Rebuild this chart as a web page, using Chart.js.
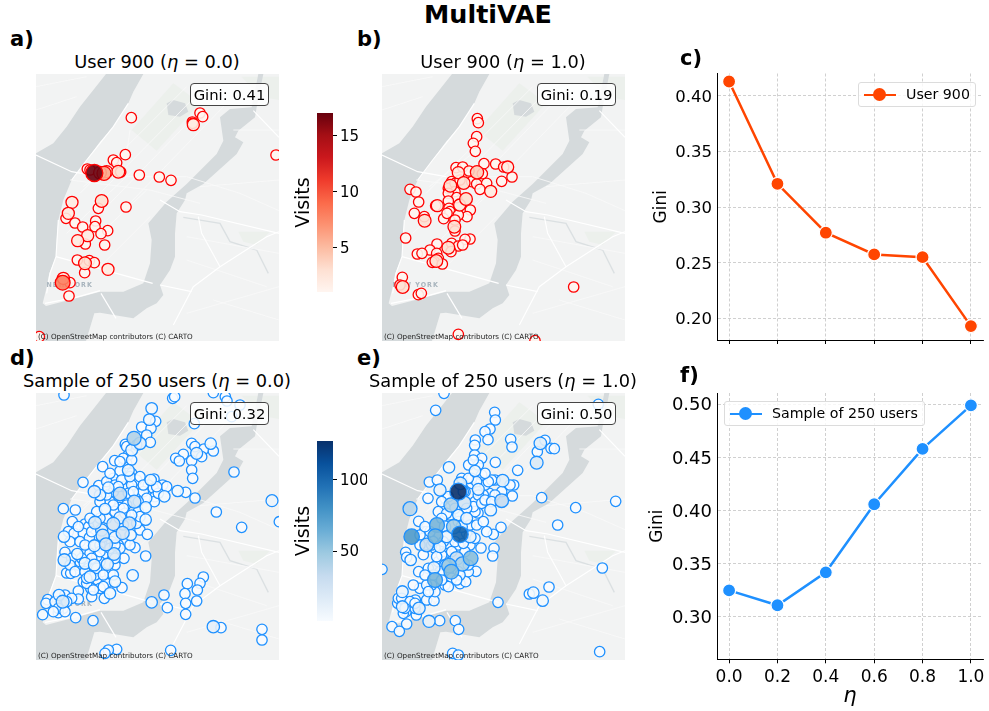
<!DOCTYPE html>
<html>
<head>
<meta charset="utf-8">
<title>MultiVAE</title>
<script src="https://cdn.jsdelivr.net/npm/chart.js@4"></script>
<style>
html, body { margin: 0; padding: 0; background: #fff; }
body { position: relative; width: 989px; height: 711px; overflow: hidden; font-family: "DejaVu Sans", sans-serif; color: #000; }
canvas { position: absolute; display: block; }
.txt { position: absolute; white-space: nowrap; line-height: 1; }
.sup { font-weight: bold; font-size: 25.4px; left: 0; width: 976px; text-align: center; top: 2px; }
.letter { font-weight: bold; font-size: 21px; }
.title { font-size: 17.8px; width: 300px; text-align: center; }
.gini { width: 79px; height: 23px; box-sizing: border-box; border: 1px solid #444; border-radius: 4px; background: rgba(255,255,255,.85); font-size: 14.8px; line-height: 21px; text-align: center; }
.attr { font-size: 7.2px; color: #222; }
.legend { position: absolute; box-sizing: border-box; height: 25px; border: 1px solid #dcdcdc; border-radius: 3px; background: rgba(255,255,255,.8); font-size: 14.2px; line-height: 23px; white-space: nowrap; }
.legend i { position: absolute; top: 10.5px; left: 5px; width: 32px; height: 2.5px; }
.legend b { position: absolute; top: 5px; left: 14px; width: 13px; height: 13px; border-radius: 50%; box-sizing: content-box; }
.legend span { position: absolute; left: 47px; }
</style>
</head>
<body>
<script>
Chart.defaults.animation = false;
Chart.defaults.font.family = "'DejaVu Sans', sans-serif";
Chart.defaults.color = '#000';
Chart.defaults.plugins.legend.display = false;
Chart.defaults.plugins.tooltip.enabled = false;

// gini por eta (paineis c, f)
const etas = [0.0, 0.2, 0.4, 0.6, 0.8, 1.0];
const giniUser = [0.413, 0.321, 0.277, 0.2575, 0.255, 0.193];
const giniSample = [0.325, 0.311, 0.342, 0.406, 0.458, 0.499];
const userTicks = [0.20, 0.25, 0.30, 0.35, 0.40];
const sampleTicks = [0.30, 0.35, 0.40, 0.45, 0.50];
const userCbarTicks = [5, 10, 15];
const sampleCbarTicks = [50, 100];

// pontos do mapa: [x, y, visits]
const pointsA = [[394,293,1],[600,279,1],[608,290,1],[577,306,1],[578,310,1],[580,314,2],[828,405,1],[376,404,1],[340,420,1],[350,428,1],[262,447,1],[270,450,1],[320,455,2],[300,458,3],[312,460,6],[283,459,17],[355,455,3],[362,456,1],[418,465,1],[478,471,1],[513,481,1],[305,543,3],[216,547,2],[295,565,1],[378,561,1],[205,580,2],[198,595,1],[225,609,1],[248,621,1],[287,603,1],[285,620,1],[323,632,1],[303,641,1],[263,647,2],[233,662,2],[256,672,1],[314,675,1],[232,720,1],[268,722,1],[283,728,1],[255,730,3],[254,758,1],[324,748,2],[190,775,2],[210,788,1],[188,788,8],[207,828,1],[118,950,1]];

const pointsB = [[397,296,1],[400,308,1],[395,350,1],[385,370,1],[391,394,1],[417,431,1],[452,432,1],[333,443,1],[353,441,1],[476,441,1],[488,441,2],[501,471,1],[470,484,1],[340,458,2],[372,453,1],[396,457,4],[412,461,1],[320,485,1],[316,497,3],[356,489,3],[380,485,1],[395,492,1],[425,490,1],[405,508,1],[437,514,2],[310,505,1],[330,490,1],[345,480,1],[195,508,1],[213,516,1],[221,546,1],[272,557,1],[277,557,2],[208,580,1],[238,590,1],[239,602,3],[363,537,3],[330,515,1],[310,520,1],[335,533,1],[344,555,2],[310,543,1],[376,570,1],[366,590,1],[312,565,1],[315,575,1],[340,585,1],[296,596,1],[306,580,1],[330,600,1],[328,620,3],[330,633,1],[182,654,1],[375,657,1],[360,658,1],[276,672,1],[320,670,1],[310,683,3],[340,678,1],[353,675,1],[318,695,1],[255,690,1],[217,702,1],[231,700,1],[275,700,1],[280,715,1],[268,725,1],[274,723,3],[262,727,1],[292,732,1],[172,772,1],[165,795,1],[173,801,3],[220,824,1],[229,820,1],[686,801,1],[340,943,1],[570,962,1]];

const pointsD = [[192,150,1],[518,160,1],[524,155,1],[640,143,1],[676,155,1],[681,168,1],[720,180,1],[455,190,5],[695,215,1],[448,224,5],[467,229,1],[583,236,1],[425,246,1],[453,250,1],[440,270,1],[402,280,40],[420,295,12],[451,292,1],[376,298,1],[380,305,1],[395,315,7],[385,330,1],[575,295,1],[585,305,1],[632,296,4],[612,312,1],[640,318,1],[590,325,8],[550,328,1],[527,340,1],[538,348,1],[575,347,1],[605,335,1],[344,347,1],[308,365,1],[380,355,1],[360,378,1],[385,376,7],[395,385,1],[575,375,1],[578,400,1],[702,381,1],[249,412,1],[296,422,1],[335,408,1],[325,428,4],[372,425,1],[410,405,1],[452,405,4],[462,402,1],[488,420,1],[445,420,1],[418,445,1],[283,440,12],[300,450,4],[360,447,30],[340,440,1],[460,430,1],[500,425,1],[533,438,4],[557,442,1],[585,459,1],[493,454,4],[465,455,1],[463,470,1],[403,470,22],[380,480,1],[816,467,8],[190,491,1],[226,495,1],[315,492,4],[358,488,1],[437,487,4],[400,500,1],[649,501,1],[360,518,10],[217,530,1],[437,524,4],[388,535,22],[340,537,22],[285,533,18],[255,537,1],[266,545,1],[725,547,1],[320,520,1],[420,555,1],[205,560,1],[222,565,1],[250,565,1],[192,575,4],[268,578,1],[305,555,10],[308,572,22],[368,564,22],[392,570,4],[442,568,1],[345,577,7],[283,602,7],[318,598,22],[375,595,1],[405,608,1],[195,622,1],[232,627,4],[255,625,1],[310,630,1],[342,627,18],[437,633,1],[372,640,1],[193,645,14],[255,655,7],[283,660,7],[322,658,10],[235,660,1],[300,650,1],[345,660,1],[200,684,1],[212,685,1],[270,695,7],[398,691,4],[610,696,1],[293,705,1],[345,710,4],[600,715,1],[562,716,1],[250,710,1],[318,715,1],[366,728,1],[592,735,1],[555,746,1],[235,738,1],[272,730,1],[330,745,4],[492,750,1],[143,764,1],[177,750,4],[195,750,1],[313,760,1],[275,755,1],[235,762,1],[590,768,1],[557,775,1],[455,772,4],[188,770,18],[138,775,1],[190,790,1],[502,788,1],[175,803,1],[128,809,1],[557,808,1],[227,818,1],[279,827,1],[640,845,12],[663,848,1],[786,853,1],[786,885,1],[350,913,1],[512,916,1],[325,915,1],[315,925,1],[838,530,1],[330,470,1],[345,500,1],[375,505,1],[415,500,1],[300,520,1],[275,560,1],[335,590,1],[355,600,1],[300,600,1],[270,625,1],[290,635,1],[240,650,1],[265,670,1],[305,680,1],[330,685,1],[285,690,1],[260,715,1],[300,730,1],[340,400,1],[395,420,1],[430,440,1],[320,410,1],[300,470,1],[290,500,1],[270,520,1],[235,545,1],[210,590,1],[240,590,1],[255,600,1],[300,620,1],[330,610,1],[360,610,1],[390,600,1],[345,600,1],[275,640,1],[245,640,1],[215,640,1],[210,660,1],[225,680,1],[255,680,1],[290,670,1],[310,690,1],[340,690,1],[260,700,1],[310,725,1],[280,735,1],[345,640,1],[370,540,1],[410,535,1],[420,515,1],[395,510,1],[370,490,1],[340,480,1],[320,450,1],[345,420,1],[365,405,1],[390,395,1],[420,395,1],[430,420,1],[440,460,1],[415,470,1],[475,445,1],[470,425,1],[385,445,1],[355,425,1],[400,440,1],[330,385,1],[370,340,1],[360,350,1],[395,345,1],[410,300,1],[215,760,1],[180,775,1],[165,770,1],[175,790,1],[200,770,1],[160,800,1],[195,800,1]];

const pointsE = [[297,145,1],[272,196,1],[449,202,1],[451,225,1],[760,178,1],[435,252,1],[420,260,1],[429,284,1],[497,283,1],[501,306,1],[391,285,1],[389,301,1],[586,295,14],[600,286,1],[577,320,1],[618,310,1],[628,311,1],[389,330,1],[451,352,1],[575,353,18],[371,360,1],[410,340,1],[312,367,4],[518,376,1],[390,378,4],[350,400,1],[346,415,16],[253,411,1],[277,405,1],[285,435,10],[340,440,127],[400,433,7],[473,407,14],[450,405,1],[506,420,1],[495,420,1],[408,410,1],[433,445,1],[249,460,1],[590,458,1],[502,453,1],[470,467,32],[812,469,1],[692,488,1],[195,491,38],[318,480,40],[358,473,24],[300,487,1],[437,495,7],[399,504,1],[221,529,1],[365,520,7],[638,540,1],[468,547,1],[276,540,60],[326,545,45],[345,568,105],[271,574,60],[200,575,75],[305,575,7],[375,575,10],[238,560,1],[445,568,1],[425,560,1],[245,600,30],[285,605,7],[408,609,1],[447,610,1],[443,633,1],[182,622,1],[185,637,1],[197,645,4],[235,629,1],[377,640,55],[352,657,42],[335,640,30],[312,662,50],[319,680,55],[267,668,10],[221,680,1],[393,679,1],[111,673,1],[772,669,1],[270,705,60],[612,726,1],[345,716,1],[362,710,1],[224,730,1],[255,738,1],[172,740,7],[172,785,7],[158,775,1],[211,765,1],[245,765,1],[267,767,1],[459,772,1],[553,747,1],[565,743,4],[593,767,4],[222,790,12],[183,800,1],[214,810,1],[252,829,10],[284,827,1],[331,827,1],[185,837,1],[141,845,1],[163,859,1],[341,853,1],[764,920,1],[323,925,1],[340,930,1],[300,510,1],[340,510,4],[350,545,4],[390,470,1],[415,450,1],[380,415,1],[420,420,1],[440,405,1],[470,440,1],[390,500,1],[300,460,1],[280,500,1],[300,545,4],[245,560,1],[255,580,1],[235,580,1],[270,610,1],[310,600,1],[340,600,1],[375,600,1],[360,620,1],[300,625,1],[320,620,1],[280,650,1],[300,650,1],[340,680,1],[370,680,1],[290,690,1],[320,700,1],[300,720,1],[270,740,1],[260,720,1],[360,440,1],[400,450,1],[450,450,1],[430,410,1],[410,390,1],[400,360,1],[385,345,1],[180,770,1],[175,805,1],[240,600,1],[210,790,1],[315,510,1],[330,490,1],[385,485,1],[410,475,1],[420,465,1],[440,470,1],[380,400,1],[395,410,1],[420,385,1],[370,400,1],[355,440,1],[310,455,1],[290,470,1],[305,505,1],[290,520,1],[255,560,1],[225,570,1],[240,545,1],[260,600,1],[225,600,1],[265,590,1],[295,590,1],[330,590,1],[355,595,1],[365,565,1],[390,580,1],[290,630,1],[275,635,1],[300,660,1],[285,680,1],[250,670,1],[265,690,1],[345,690,1],[370,660,1],[335,705,1],[310,725,1],[290,705,1],[245,720,1],[160,760,1],[170,760,1],[195,770,1],[210,775,1],[180,790,1],[250,740,1],[240,690,1],[205,720,1],[375,540,1],[395,540,1],[415,530,1],[340,530,1],[365,490,1]];

const visitsUserMax = 17;
const visitsSampleMax = 127;

// cores
const REDS = ['#fff5f0','#fee0d2','#fcbba1','#fc9272','#fb6a4a','#ef3b2c','#cb181d','#a50f15','#67000d'];
const BLUES = ['#f7fbff','#deebf7','#c6dbef','#9ecae1','#6baed6','#4292c6','#2171b5','#08519c','#08306b'];

function hexRgb(h) {
    return [parseInt(h.slice(1,3),16), parseInt(h.slice(3,5),16), parseInt(h.slice(5,7),16)];
}

function cmap(stops, t, alpha) {
    const p = Math.min(Math.max(t, 0), 1) * (stops.length - 1);
    const i = Math.min(Math.floor(p), stops.length - 2);
    const a = hexRgb(stops[i]), b = hexRgb(stops[i + 1]), f = p - i;
    const c = a.map((v, k) => Math.round(v + (b[k] - v) * f));
    return `rgba(${c[0]},${c[1]},${c[2]},${alpha})`;
}

// mapa de fundo (so decoracao, coordenadas do recorte do mapa)
const MAP_W = 729, MAP_H = 801;
const water = [
    [[318,162],[430,162],[400,215],[385,250],[340,320],[300,365],[260,420],[215,480],[190,540],[175,600],[170,660],[168,710],[148,760],[138,810],[128,850],[138,858],[228,835],[300,815],[370,815],[430,790],[450,730],[455,660],[445,610],[500,545],[560,492],[650,402],[670,362],[660,292],[690,267],[755,262],[775,162],[790,162],[770,262],[765,292],[715,332],[705,352],[730,367],[710,402],[610,492],[560,520],[555,540],[530,580],[525,640],[525,710],[510,750],[480,795],[490,825],[470,850],[440,865],[400,895],[300,878],[283,880],[258,963],[108,963],[108,400],[160,370],[200,320],[240,260],[280,210]],
    [[500,250],[520,240],[555,250],[565,275],[540,290],[505,285]]
];
const creek = [[550,592],[660,610],[690,665],[770,690],[805,760]];
const parks = [
    [[520,190],[600,250],[470,392],[395,330]],
    [[715,635],[810,635],[770,675],[730,665]],
    [[725,170],[837,170],[837,240],[780,230]]
];
const roads = [
    [[108,405],[215,455],[300,470]],
    [[480,540],[540,575],[605,585],[837,640]],
    [[595,590],[605,640],[660,740]],
    [[520,915],[580,800],[660,740],[800,650],[837,635]],
    [[480,795],[575,815]],
    [[760,272],[837,352]],
    [[168,710],[458,790]],
    [[303,820],[348,895]],
    [[135,850],[228,832],[300,812]],
    [[175,600],[168,710],[150,760],[140,820]],
    [[215,480],[260,420],[340,320],[385,250]]
];
const avenues = [
    [[240,520],[560,200]],[[280,540],[600,215]],[[320,560],[640,230]],[[360,580],[680,250]],
    [[200,640],[400,450]],[[250,690],[440,510]],[[300,740],[450,590]],
    [[300,470],[560,470],[720,520],[837,572]],[[210,480],[450,510],[600,550]],
    [[390,330],[380,400],[250,500]],
    [[560,650],[837,700]],[[560,720],[800,800]],[[600,500],[837,480]],[[700,330],[837,330]],
    [[108,200],[260,170]],[[108,270],[230,230]],[[560,880],[837,800]],[[640,840],[837,900]]
];

const basemapPlugin = {
    id: 'basemap',
    beforeDatasetsDraw(chart) {
        const ctx = chart.ctx, a = chart.chartArea;
        const poly = pts => {
            ctx.beginPath();
            pts.forEach((p, i) => i ? ctx.lineTo(p[0], p[1]) : ctx.moveTo(p[0], p[1]));
        };
        ctx.save();
        ctx.beginPath();
        ctx.rect(a.left, a.top, a.right - a.left, a.bottom - a.top);
        ctx.clip();
        ctx.fillStyle = '#f2f3f3';
        ctx.fillRect(a.left, a.top, a.right - a.left, a.bottom - a.top);
        ctx.translate(a.left, a.top);
        ctx.scale((a.right - a.left) / MAP_W, (a.bottom - a.top) / MAP_H);
        ctx.translate(-108, -162);
        ctx.fillStyle = '#ecf0ec';
        parks.forEach(p => { poly(p); ctx.fill(); });
        ctx.fillStyle = '#d5dadc';
        water.forEach(p => { poly(p); ctx.fill(); });
        ctx.strokeStyle = '#dbe0e2';
        ctx.lineWidth = 4;
        poly(creek);
        ctx.stroke();
        ctx.strokeStyle = '#f9f9f9';
        ctx.lineWidth = 2.5;
        avenues.forEach(p => { poly(p); ctx.stroke(); });
        ctx.strokeStyle = '#ffffff';
        ctx.lineWidth = 3.5;
        roads.forEach(p => { poly(p); ctx.stroke(); });
        ctx.fillStyle = '#a8b4bd';
        ctx.font = "bold 19px 'DejaVu Sans', sans-serif";
        ctx.letterSpacing = '3px';
        ctx.textAlign = 'center';
        ctx.textBaseline = 'middle';
        ctx.fillText('NEW YORK', 209, 797);
        ctx.restore();
    }
};

function addCanvas(left, top, w, h) {
    const c = document.createElement('canvas');
    c.width = w; c.height = h;
    c.style.left = left + 'px';
    c.style.top = top + 'px';
    c.style.width = w + 'px';
    c.style.height = h + 'px';
    document.body.appendChild(c);
    return c.getContext('2d');
}

function addText(cls, left, top, html) {
    const d = document.createElement('div');
    d.className = 'txt ' + cls;
    if (left !== null) d.style.left = left + 'px';
    d.style.top = top + 'px';
    d.innerHTML = html;
    document.body.appendChild(d);
    return d;
}

function renderMap(left, top, points, stops, vmax, edge, xMin, yMin) {
    const sorted = points.slice().sort((p, q) => p[2] - q[2]);
    new Chart(addCanvas(left, top, 243, 267), {
        type: 'scatter',
        data: {
            datasets: [{
                data: sorted.map(p => ({ x: p[0], y: p[1], v: p[2] })),
                borderColor: edge,
                borderWidth: 1.3,
                backgroundColor: c => c.raw ? cmap(stops, (c.raw.v - 1) / (vmax - 1), 0.9) : '#fff',
                pointRadius: c => c.raw ? 5.2 + 3.3 * Math.sqrt((c.raw.v - 1) / (vmax - 1)) : 5
            }]
        },
        options: {
            responsive: false,
            layout: { autoPadding: false, padding: 0 },
            scales: {
                x: { type: 'linear', display: false, min: xMin, max: xMin + MAP_W },
                y: { type: 'linear', display: false, reverse: true, min: yMin, max: yMin + MAP_H }
            }
        },
        plugins: [basemapPlugin]
    });
}

function renderColorbar(left, top, h, stops, vmax, ticks) {
    new Chart(addCanvas(left, top, 74, h), {
        type: 'bar',
        data: {
            labels: [''],
            datasets: [{
                data: [[1, vmax]],
                yAxisID: 'y',
                barPercentage: 1,
                categoryPercentage: 1,
                backgroundColor: c => {
                    const a = c.chart.chartArea;
                    if (!a) return stops[4];
                    const g = c.chart.ctx.createLinearGradient(0, a.bottom, 0, a.top);
                    stops.forEach((s, i) => g.addColorStop(i / (stops.length - 1), s));
                    return g;
                }
            }]
        },
        options: {
            responsive: false,
            layout: { autoPadding: false, padding: { top: 13, bottom: 13 } },
            scales: {
                x: { display: false },
                y: {
                    position: 'right', min: 1, max: vmax,
                    border: { display: false },
                    grid: { drawOnChartArea: false, tickColor: '#000', tickLength: 4, tickWidth: 1 },
                    ticks: { font: { size: 15 }, padding: 3, autoSkip: false, labelOffset: 1.5 },
                    afterBuildTicks: s => { s.ticks = ticks.map(v => ({ value: v })); },
                    afterFit: s => { s.width = 34; s.paddingTop = 0; s.paddingBottom = 0; }
                },
                yTitle: {
                    axis: 'y', position: 'left', min: 1, max: vmax,
                    border: { display: false },
                    grid: { display: false, drawTicks: false },
                    ticks: { display: false },
                    title: { display: true, text: 'Visits', font: { size: 19 }, padding: 0 },
                    afterFit: s => { s.width = 24; }
                }
            }
        }
    });
}

function renderGini(opts) {
    new Chart(addCanvas(640, opts.top, 349, opts.h), {
        type: 'line',
        data: {
            datasets: [{
                label: opts.name,
                data: etas.map((e, i) => ({ x: e, y: opts.values[i] })),
                borderColor: opts.color,
                borderWidth: 2.5,
                backgroundColor: opts.color,
                pointRadius: 6.5,
                pointBorderColor: '#fff',
                pointBorderWidth: 1.2,
                tension: 0,
                clip: false
            }]
        },
        options: {
            responsive: false,
            layout: { autoPadding: false, padding: { top: opts.padTop, right: 6 } },
            scales: {
                x: {
                    type: 'linear', min: -0.05, max: 1.05,
                    border: { display: true, color: '#000', width: 1, dash: [3, 2] },
                    grid: { color: '#c4c4c4', lineWidth: 0.8, tickColor: '#000', tickLength: 4, tickWidth: 1, tickBorderDash: [] },
                    ticks: { display: opts.xLabels, font: { size: 17 }, padding: 4, maxRotation: 0, autoSkip: false, callback: v => v.toFixed(1) },
                    title: { display: opts.xLabels, text: 'η', font: { size: 21, style: 'italic' }, padding: { top: 0, bottom: 2 } },
                    afterBuildTicks: s => { s.ticks = etas.map(v => ({ value: v })); },
                    afterFit: s => { s.height = opts.xH; s.paddingLeft = 0; s.paddingRight = 0; }
                },
                y: {
                    min: opts.yMin, max: opts.yMax,
                    border: { display: true, color: '#000', width: 1, dash: [3, 2] },
                    grid: { color: '#c4c4c4', lineWidth: 0.8, tickColor: '#000', tickLength: 0, tickBorderDash: [] },
                    ticks: { font: { size: opts.tickSize }, padding: 5, autoSkip: false, labelOffset: 1.5, callback: v => v.toFixed(2) },
                    title: { display: true, text: 'Gini', font: { size: 17 }, padding: { top: opts.titlePad, bottom: 0 } },
                    afterBuildTicks: s => { s.ticks = opts.ticks.map(v => ({ value: v })); },
                    afterFit: s => { s.width = 77; s.paddingTop = 0; s.paddingBottom = 0; }
                }
            }
        }
    });
}

function addLegend(left, top, w, name, color) {
    const d = document.createElement('div');
    d.className = 'legend';
    d.style.left = left + 'px';
    d.style.top = top + 'px';
    d.style.width = w + 'px';
    d.innerHTML = `<i style="background:${color}"></i><b style="background:${color}"></b><span>${name}</span>`;
    document.body.appendChild(d);
}

// paineis de mapa
renderMap(36, 74, pointsA, REDS, visitsUserMax, '#ff0000', 108, 162);
renderMap(382, 74, pointsB, REDS, visitsUserMax, '#ff0000', 111, 162);
renderMap(36, 393, pointsD, BLUES, visitsSampleMax, '#1e90ff', 108, 144);
renderMap(382, 393, pointsE, BLUES, visitsSampleMax, '#1e90ff', 111, 144);

renderColorbar(293, 100, 205, REDS, visitsUserMax, userCbarTicks);
renderColorbar(293, 428, 206, BLUES, visitsSampleMax, sampleCbarTicks);

renderGini({ top: 60, h: 300, padTop: 13.5, xH: 20, xLabels: false, name: 'User 900', values: giniUser, color: '#ff4500', yMin: 0.1805, yMax: 0.4202, ticks: userTicks, tickSize: 16.5, titlePad: 11 });
renderGini({ top: 380, h: 331, padTop: 13, xH: 51.7, xLabels: true, name: 'Sample of 250 users', values: giniSample, color: '#1e90ff', yMin: 0.2602, yMax: 0.5106, ticks: sampleTicks, tickSize: 18, titlePad: 7 });

addLegend(858, 82, 118, 'User 900', '#ff4500');
addLegend(724, 401, 201, 'Sample of 250 users', '#1e90ff');

// textos
addText('sup', null, 2, 'MultiVAE');
[['a)', 10, 29], ['b)', 357, 29], ['c)', 680, 48], ['d)', 10, 348], ['e)', 357, 348], ['f)', 680, 365]]
    .forEach(l => addText('letter', l[1], l[2], l[0]));
addText('title', 7, 53, 'User 900 (<i>η</i> = 0.0)');
addText('title', 353, 53, 'User 900 (<i>η</i> = 1.0)');
addText('title', 7, 372, 'Sample of 250 users (<i>η</i> = 0.0)');
addText('title', 353, 372, 'Sample of 250 users (<i>η</i> = 1.0)');
addText('gini', 190, 83, 'Gini: 0.41');
addText('gini', 537, 83, 'Gini: 0.19');
addText('gini', 190, 402, 'Gini: 0.32');
addText('gini', 537, 402, 'Gini: 0.50');
addText('attr', 38, 333, '(C) OpenStreetMap contributors (C) CARTO');
addText('attr', 384, 333, '(C) OpenStreetMap contributors (C) CARTO');
addText('attr', 38, 652, '(C) OpenStreetMap contributors (C) CARTO');
addText('attr', 384, 652, '(C) OpenStreetMap contributors (C) CARTO');
</script>
</body>
</html>
